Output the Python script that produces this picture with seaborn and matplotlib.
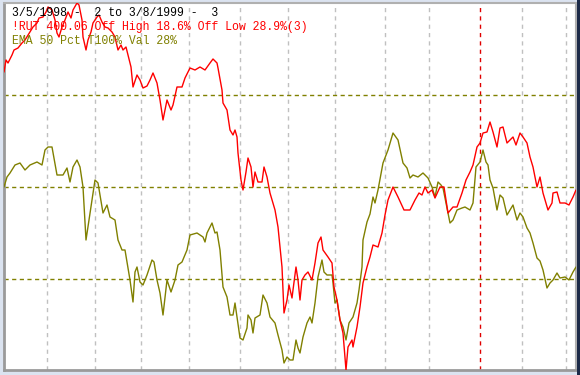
import matplotlib
matplotlib.use("Agg")
import matplotlib.pyplot as plt
import seaborn as sns
import pandas as pd
from matplotlib.patches import Rectangle

# ---- data (session index, level) ----
rut_x = [0,2,4,8,10,14,18,21,26,29,33,35,39,42,44,48,51,53,55,58,61,64,67,69,73,75,78,79,82,84,87,89,93,95,98,101,104,108,111,114,117,119,122,124,127,129,133,136,139,143,146,149,153,156,159,163,167,169,173,178,181,186,191,196,201,206,209,213,214,218,219,223,226,229,231,233,234,237,239,242,244,247,249,251,254,258,260,263,266,269,271,274,278,280,283,285,288,289,292,294,296,298,301,304,308,311,314,317,319,324,328,330,333,336,339,342,344,348,349,353,356,359,363,366,369,374,378,381,384,389,394,400,406,411,415,418,421,424,428,431,436,440,444,449,453,458,462,466,469,473,476,479,483,486,489,493,496,499,503,506,509,512,516,519,523,526,529,533,536,539,544,548,549,553,556,561,565,569,572]
rut_y = [298,310,307,315,320,322,327,330,338,343,347,352,353,358,363,360,350,337,333,343,350,358,352,360,367,365,350,333,320,330,338,347,353,355,348,343,342,338,333,320,325,320,323,315,303,283,295,290,282,284,290,297,287,270,250,270,260,265,283,283,292,302,300,303,300,307,311,307,302,280,267,260,240,235,240,233,217,190,180,198,212,203,183,198,188,188,203,193,177,167,160,143,103,57,70,85,72,80,103,90,70,90,95,98,90,107,127,133,120,113,107,83,70,50,37,0,23,30,23,43,63,87,103,113,125,123,137,155,170,183,173,160,160,170,177,175,183,177,180,172,183,183,157,163,163,177,190,198,205,223,227,237,238,248,238,223,242,243,227,230,233,225,237,233,227,213,203,183,193,177,160,167,177,178,167,167,165,173,180]

ema_x = [0,3,6,11,16,21,26,33,38,41,44,48,53,59,63,66,69,73,76,79,82,86,91,94,99,103,106,111,114,118,121,126,129,131,133,136,139,143,148,150,153,156,159,163,167,171,174,178,183,186,193,199,201,203,208,211,213,216,219,223,226,229,231,233,236,239,243,244,247,249,251,256,259,263,266,271,274,278,280,283,286,289,292,294,296,299,303,306,308,311,314,318,320,323,328,329,331,333,336,339,342,345,349,353,355,358,359,363,366,369,371,374,379,384,389,394,399,403,406,409,414,419,424,428,431,434,437,439,444,446,449,453,458,461,466,469,472,476,479,482,484,486,489,493,496,499,503,506,509,513,516,519,523,526,529,533,536,539,543,546,549,553,556,561,565,569,572]
ema_y = [183,193,197,205,207,200,205,208,205,220,223,223,195,195,202,188,203,210,203,183,130,157,190,187,157,165,153,150,130,120,120,90,68,98,103,88,85,95,110,108,90,77,55,90,78,90,105,108,120,135,137,133,128,137,147,137,138,120,83,73,55,55,67,53,32,30,42,55,50,37,52,55,75,67,53,47,35,20,7,13,10,10,30,22,17,33,47,53,47,67,93,110,98,95,95,87,67,70,50,43,30,47,53,67,80,103,130,148,156,173,167,180,207,220,237,230,207,202,192,195,193,197,192,183,173,188,185,182,157,147,150,160,162,163,160,167,203,208,220,208,205,190,182,160,175,172,155,160,165,150,157,153,142,137,127,112,109,100,82,87,90,97,92,93,90,98,103]

month_starts = [43, 91, 137, 185, 236, 284, 331, 381, 425, 476, 518, 562]
year_start = 476
levels = [91, 183, 275]

header = "3/5/1998 -  2 to 3/8/1999 -  3"
rut_label = "!RUT 400.06 Off High 18.6% Off Low 28.9%(3)"
ema_label = "EMA 50 Pct T100% Val 28%"

RED = "#ff0000"
OLIVE = "#808000"

sns.set_theme(style="white")
plt.rcParams["font.family"] = ["Liberation Mono", "DejaVu Sans Mono"]

fig = plt.figure(figsize=(5.8, 3.75), dpi=100, facecolor="#dbe3f0")
W, H = 580, 375
ax = fig.add_axes([4 / W, (375 - 370) / H, 572 / W, 367 / H])
ax.set_facecolor("white")

# right dark window edge
fig.patches.append(Rectangle((577 / W, 0), 3 / W, 1, transform=fig.transFigure,
                             facecolor="#1c2a48", edgecolor="none", zorder=0))

for m in month_starts:
    if m == year_start:
        ax.axvline(m, color="#e00000", lw=1.0, dashes=(3, 3), zorder=1)
    else:
        ax.axvline(m, color="#c0c0c0", lw=1.0, dashes=(3, 3), zorder=1)
for lv in levels:
    ax.axhline(lv, color=OLIVE, lw=1.0, dashes=(3, 2.5), zorder=1)

df_r = pd.DataFrame({"x": rut_x, "y": rut_y})
df_e = pd.DataFrame({"x": ema_x, "y": ema_y})
sns.lineplot(data=df_e, x="x", y="y", color=OLIVE, lw=1.0, ax=ax, zorder=3)
sns.lineplot(data=df_r, x="x", y="y", color=RED, lw=1.0, ax=ax, zorder=4)

ax.set_xlim(0, 572)
ax.set_ylim(0, 367)
ax.set_xticks([])
ax.set_yticks([])
ax.set_xlabel("")
ax.set_ylabel("")
for s in ["left", "bottom"]:
    ax.spines[s].set_color("#9a9a9a")
    ax.spines[s].set_linewidth(2.0)
for s in ["top", "right"]:
    ax.spines[s].set_color("#b0b0b0")
    ax.spines[s].set_linewidth(1.5)

fs = 8.3
ax.text(8 / 572, 1 - 4 / 367, header, transform=ax.transAxes, color="black",
        fontsize=fs, va="top", ha="left", zorder=5)
ax.text(8 / 572, 1 - 18 / 367, rut_label, transform=ax.transAxes, color=RED,
        fontsize=fs, va="top", ha="left", zorder=5)
ax.text(8 / 572, 1 - 32 / 367, ema_label, transform=ax.transAxes, color=OLIVE,
        fontsize=fs, va="top", ha="left", zorder=5)

fig.savefig("out.png", dpi=100, facecolor=fig.get_facecolor())
